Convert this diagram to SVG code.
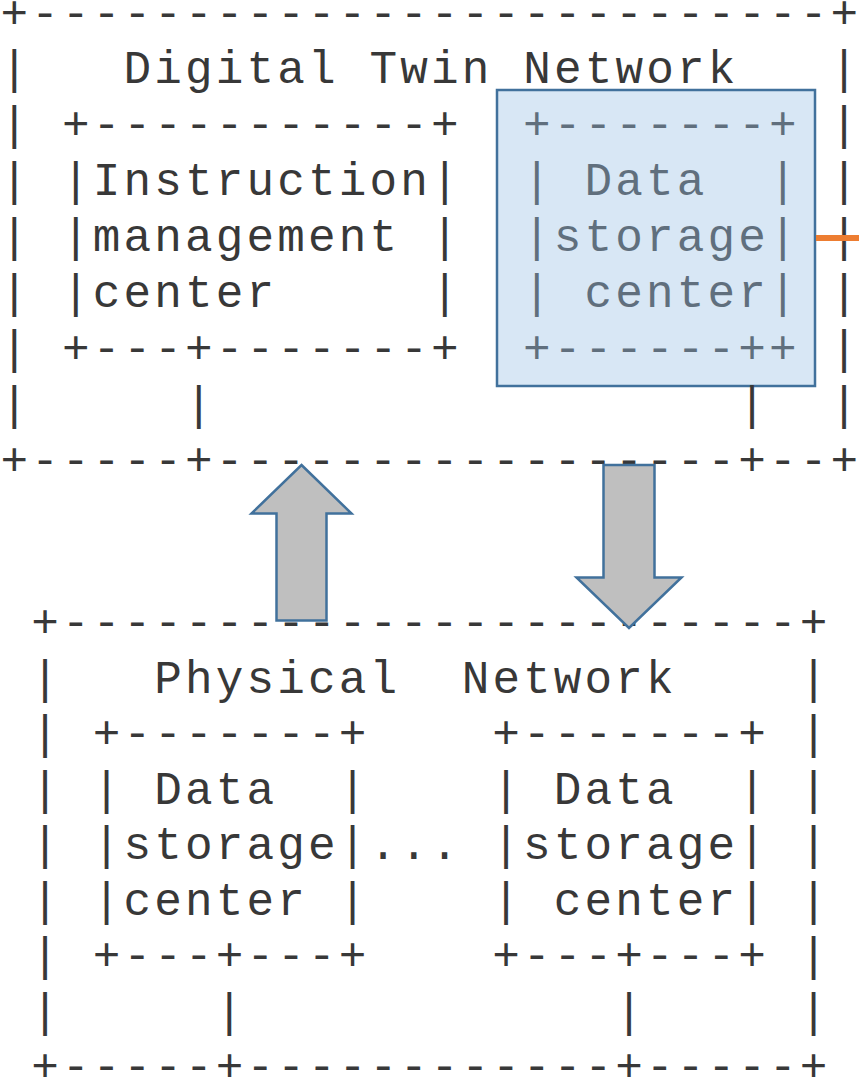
<svg xmlns="http://www.w3.org/2000/svg" width="859" height="1081" viewBox="0 0 859 1081" xml:space="preserve">
<style>
.t { font-family: "Liberation Mono", "DejaVu Sans Mono", monospace; font-size: 46px; letter-spacing: 3.14px; fill: #383838; white-space: pre; }
.c { font-family: "Liberation Mono", "DejaVu Sans Mono", monospace; font-size: 46px; fill: #383838; text-anchor: middle; }
.w { letter-spacing: 0; }
.arrow { fill: #BFBFBF; stroke: #41719C; stroke-width: 2.5; stroke-linejoin: miter; }
.hl { fill: #9DC3E6; fill-opacity: 0.4; stroke: #41719C; stroke-width: 2.5; }
.link { stroke: #ED7D31; stroke-width: 6; fill: none; }
</style>
<rect x="0" y="0" width="859" height="1081" fill="#FFFFFF"/>

<g id="digital-twin-network">
  <text class="t w" x="0.5" y="27.5" textLength="857.5" lengthAdjust="spacing">+--------------------------+</text>
  <text class="t" x="123.5" y="83.4">Digital Twin Network</text>
  <text class="c" x="14.3" y="83.4">|</text><text class="c" x="844" y="83.4">|</text>
  <text class="c" x="14.3" y="139.3">|</text><text class="c" x="844" y="139.3">|</text>
  <text class="c" x="14.3" y="195.2">|</text><text class="c" x="844" y="195.2">|</text>
  <text class="c" x="14.3" y="251.1">|</text><text class="c" x="844" y="251.1">|</text>
  <text class="c" x="14.3" y="307.0">|</text><text class="c" x="844" y="307.0">|</text>
  <text class="c" x="14.3" y="362.9">|</text><text class="c" x="844" y="362.9">|</text>
  <text class="c" x="14.3" y="418.8">|</text><text class="c" x="844" y="418.8">|</text>
  <text class="t w" x="0.5" y="474.7" textLength="857.5" lengthAdjust="spacing">+-----+-----------------+--+</text>
</g>

<g id="instruction-management-center">
  <text class="t" x="62.0" y="139.3">+-----------+</text>
  <text class="t" x="62.0" y="195.2">|Instruction|</text>
  <text class="t" x="62.0" y="251.1">|management |</text>
  <text class="t" x="62.0" y="307.0">|center     |</text>
  <text class="t" x="62.0" y="362.9">+---+-------+</text>
</g>

<g id="dtn-data-storage-center">
  <text class="t" x="523.1" y="139.3">+-------+</text>
  <text class="t" x="523.1" y="195.2">| Data  |</text>
  <text class="t" x="523.1" y="251.1">|storage|</text>
  <text class="t" x="523.1" y="307.0">| center|</text>
  <text class="t" x="523.1" y="362.9">+------++</text>
  <rect class="hl" x="497" y="90" width="318" height="296"/>
</g>

<g id="physical-network">
  <text class="t" x="31.2" y="637">+------------------------+</text>
  <text class="t" x="154.2" y="692.5">Physical  Network</text>
  <text class="c" x="45" y="692.5">|</text><text class="c" x="813.5" y="692.5">|</text>
  <text class="c" x="45" y="748">|</text><text class="c" x="813.5" y="748">|</text>
  <text class="c" x="45" y="803.5">|</text><text class="c" x="813.5" y="803.5">|</text>
  <text class="c" x="45" y="859">|</text><text class="c" x="813.5" y="859">|</text>
  <text class="t" x="369.3" y="859">...</text>
  <text class="c" x="45" y="914.5">|</text><text class="c" x="813.5" y="914.5">|</text>
  <text class="c" x="45" y="970">|</text><text class="c" x="813.5" y="970">|</text>
  <text class="c" x="45" y="1025.5">|</text><text class="c" x="813.5" y="1025.5">|</text>
  <text class="t" x="31.2" y="1081">+-----+------------+-----+</text>
</g>

<g id="pn-data-storage-center-1">
  <text class="t" x="92.7" y="748">+-------+</text>
  <text class="t" x="92.7" y="803.5">| Data  |</text>
  <text class="t" x="92.7" y="859">|storage|</text>
  <text class="t" x="92.7" y="914.5">|center |</text>
  <text class="t" x="92.7" y="970">+---+---+</text>
</g>

<g id="pn-data-storage-center-2">
  <text class="t" x="492.3" y="748">+-------+</text>
  <text class="t" x="492.3" y="803.5">| Data  |</text>
  <text class="t" x="492.3" y="859">|storage|</text>
  <text class="t" x="492.3" y="914.5">| center|</text>
  <text class="t" x="492.3" y="970">+---+---+</text>
</g>

<g id="connectors">
  <text class="c" x="198.7" y="418.8">|</text>
  <text class="c" x="752.1" y="418.8">|</text>
  <text class="c" x="229.4" y="1025.5">|</text>
  <text class="c" x="629.1" y="1025.5">|</text>
  <line class="link" x1="816" y1="238" x2="859" y2="238"/>
  <polygon class="arrow" points="301.5,465 351.5,513.5 326.5,513.5 326.5,620.5 276.5,620.5 276.5,513.5 251.5,513.5"/>
  <polygon class="arrow" points="603.5,465 654.5,465 654.5,577.5 681.5,577.5 629,628 576.5,577.5 603.5,577.5"/>
</g>
</svg>
